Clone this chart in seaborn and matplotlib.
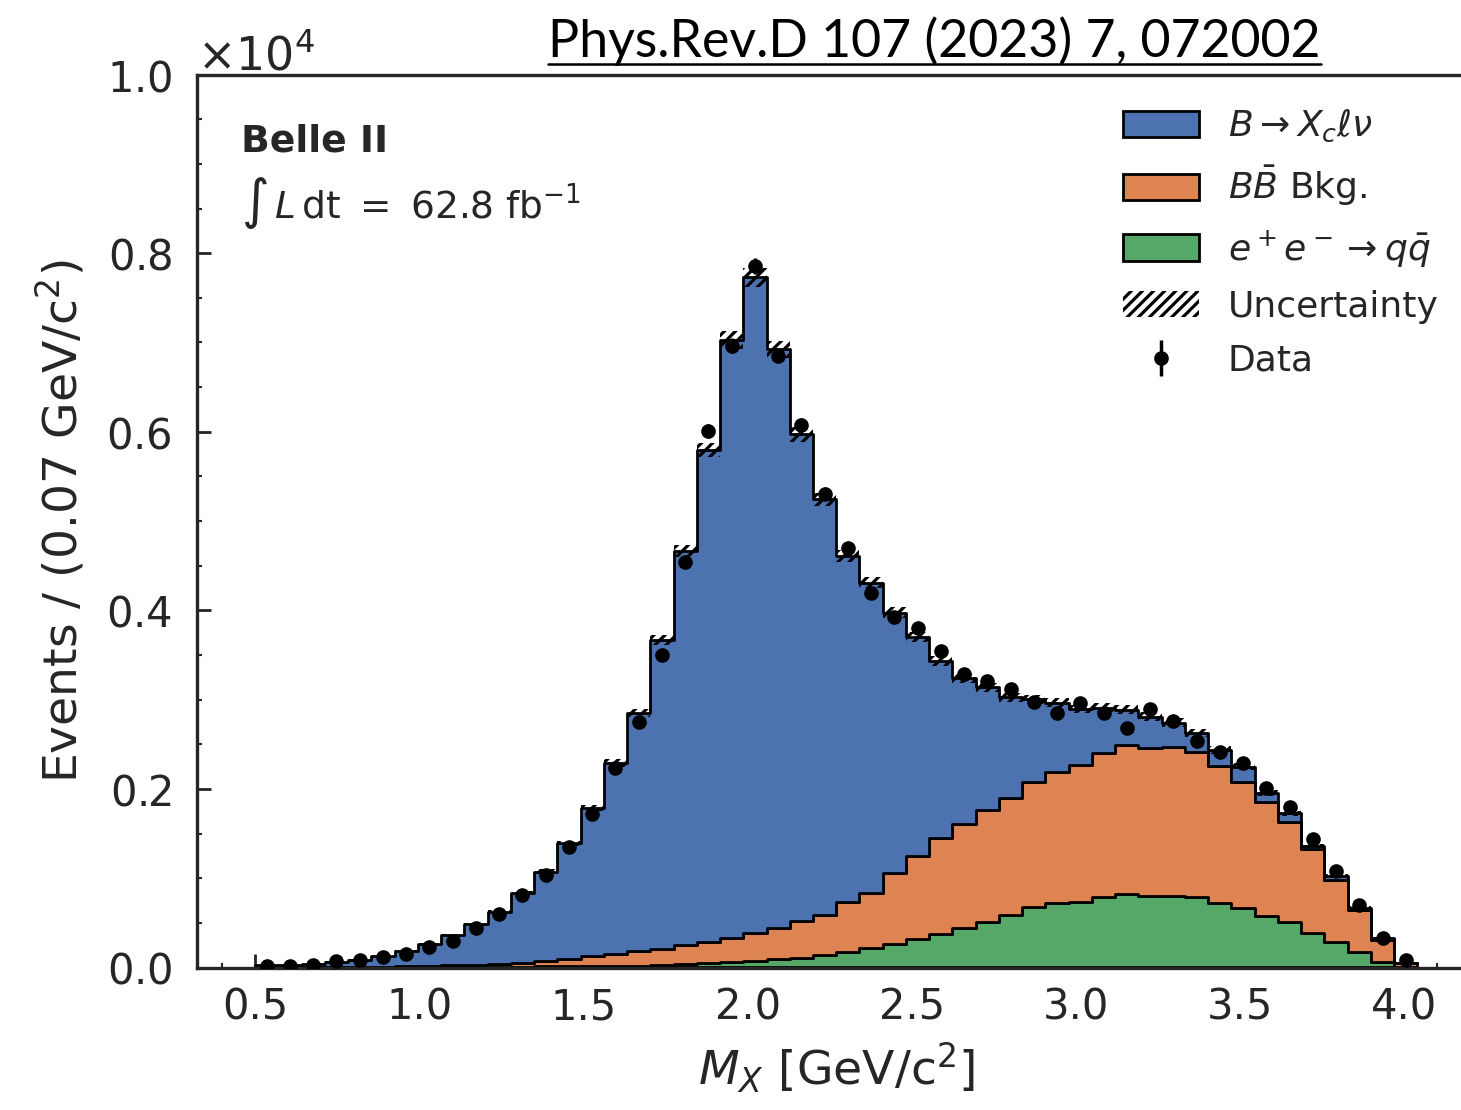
import numpy as np
import pandas as pd
import seaborn as sns
import matplotlib
matplotlib.use('Agg')
import matplotlib.pyplot as plt
from matplotlib.patches import Patch
from matplotlib.lines import Line2D
from matplotlib.ticker import MultipleLocator, ScalarFormatter

# M_X histogram, 50 bins from 0.5 to 4.04 GeV/c^2
bin_edges = np.linspace(0.5, 4.04, 51)
bin_centers = 0.5 * (bin_edges[:-1] + bin_edges[1:])

# stacked MC components (events per bin)
xc_lnu = [28, 28, 39, 63, 80, 121, 173, 245, 340, 455,
          583, 779, 1000, 1294, 1661, 2135, 2670, 3455, 4416, 5507,
          6695, 7343, 6478, 5451, 4653, 3883, 3474, 2918, 2454, 1982,
          1628, 1373, 1129, 924, 772, 628, 505, 393, 348, 269,
          213, 180, 168, 101, 94, 33, 45, 26, 20, 0]
bb_bkg = [0, 0, 0, 2, 3, 6, 9, 14, 19, 26,
          34, 45, 63, 86, 109, 137, 158, 184, 212, 242,
          274, 314, 355, 410, 455, 555, 620, 793, 935, 1070,
          1170, 1260, 1307, 1400, 1474, 1531, 1612, 1672, 1657, 1669,
          1624, 1530, 1411, 1280, 1120, 937, 691, 467, 243, 47]
qq_bkg = [0, 0, 0, 0, 1, 2, 3, 4, 5, 6,
          8, 10, 12, 14, 16, 18, 22, 28, 36, 46,
          58, 72, 90, 110, 135, 175, 215, 262, 315, 380,
          440, 505, 588, 681, 719, 737, 793, 820, 804, 804,
          786, 726, 670, 577, 513, 390, 289, 177, 65, 0]

# MC uncertainty (half width of the hatched band)
mc_unc = [3, 3, 4, 5, 6, 7, 8, 10, 12, 14,
          16, 19, 23, 28, 33, 40, 48, 58, 70, 82,
          96, 105, 96, 85, 76, 68, 64, 60, 57, 54,
          52, 51, 50, 50, 50, 49, 50, 50, 48, 47,
          45, 42, 39, 35, 31, 26, 20, 14, 8, 3]

# observed data
data_counts = [17, 20, 28, 70, 84, 114, 151, 235, 302, 440,
               600, 812, 1035, 1350, 1720, 2235, 2750, 3500, 4540, 6011,
               6965, 7855, 6850, 6080, 5305, 4697, 4197, 3930, 3805, 3547,
               3290, 3209, 3115, 2977, 2848, 2959, 2845, 2684, 2893, 2760,
               2536, 2410, 2294, 2014, 1795, 1441, 1077, 705, 328, 80]

labels = [r'$B \rightarrow X_c \ell \nu$', r'$B\bar{B}$ Bkg.', r'$e^+e^- \rightarrow q\bar{q}$']
colors = sns.color_palette('deep')[:3]

sns.set_style('ticks')
plt.rcParams['font.family'] = ['DejaVu Sans']
plt.rcParams['mathtext.fontset'] = 'dejavusans'
plt.rcParams['hatch.linewidth'] = 2.3

n = len(bin_centers)
df = pd.DataFrame({
    'mx': np.tile(bin_centers, 3),
    'w': np.concatenate([xc_lnu, bb_bkg, qq_bkg]).astype(float),
    'comp': np.repeat(labels, n),
})

W, H = 1461, 1110
fig = plt.figure(figsize=(W / 100, H / 100), dpi=100)
ax_left, ax_bottom, ax_top = 197, 967.5, 74.6
ax_width = 1278.5
ax = fig.add_axes([ax_left / W, 1 - ax_bottom / H, ax_width / W, (ax_bottom - ax_top) / H])

sns.histplot(data=df, x='mx', weights='w', hue='comp', hue_order=labels,
             bins=bin_edges.tolist(), multiple='stack', element='step', fill=True,
             palette=colors, alpha=1, edgecolor='black', linewidth=2,
             legend=False, ax=ax)

total = np.array(xc_lnu) + np.array(bb_bkg) + np.array(qq_bkg)
unc = np.array(mc_unc)
widths = np.diff(bin_edges)
ax.bar(bin_centers, 2 * unc, bottom=total - unc, width=widths, fill=False,
       hatch='///', edgecolor='black', linewidth=0, zorder=3)

data = np.array(data_counts, dtype=float)
eb = ax.errorbar(bin_centers, data, yerr=np.sqrt(data), fmt='o', color='black',
                 ms=9.5, elinewidth=2.5, capsize=0, zorder=4)

ax.set_xlim(0.323, 4.217)
ax.set_ylim(0, 10000)
ax.xaxis.set_major_locator(MultipleLocator(0.5))
ax.xaxis.set_minor_locator(MultipleLocator(0.1))
ax.yaxis.set_major_locator(MultipleLocator(2000))
ax.yaxis.set_minor_locator(MultipleLocator(500))
fmt = ScalarFormatter(useMathText=True)
fmt.set_powerlimits((0, 0))
ax.yaxis.set_major_formatter(fmt)
ax.yaxis.get_offset_text().set_fontsize(33)

ax.tick_params(which='major', direction='in', length=10, width=2, labelsize=30, pad=14,
               top=False, right=False)
ax.tick_params(axis='y', which='major', pad=18)
ax.tick_params(which='minor', direction='in', length=3.6, width=1.5, top=False, right=False)
for sp in ax.spines.values():
    sp.set_linewidth(2.4)

ax.set_xlabel(r'$M_X$ [GeV/c$^2$]', fontsize=34, labelpad=8)
ax.set_ylabel(r'Events / (0.07 GeV/c$^2$)', fontsize=34, labelpad=14)

fig.text(241 / W, 1 - 152 / H, 'Belle II', fontsize=27.2, fontweight='bold', ha='left', va='baseline')
fig.text(241 / W, 1 - 218 / H, r'$\int\, L\, \mathrm{dt}\ =\ 62.8\ \mathrm{fb}^{-1}$',
         fontsize=27, ha='left', va='baseline')

handles = [Patch(facecolor=colors[0], edgecolor='black', linewidth=2),
           Patch(facecolor=colors[1], edgecolor='black', linewidth=2),
           Patch(facecolor=colors[2], edgecolor='black', linewidth=2),
           Patch(facecolor='none', edgecolor='black', hatch='///', linewidth=0),
           eb]
leg_labels = labels + ['Uncertainty', 'Data']
fig.legend(handles, leg_labels, loc='upper left', bbox_to_anchor=(1105 / W, 1 - 90 / H),
           frameon=False, fontsize=26, handlelength=2.1, handleheight=0.75,
           handletextpad=0.8, labelspacing=0.55, borderpad=0)

title = fig.text(548 / W, 1 - 57 / H, 'Phys.Rev.D 107 (2023) 7, 072002', fontsize=37.4,
                 family='Lato', color='black', ha='left', va='baseline')
renderer = fig.canvas.get_renderer()
bb = title.get_window_extent(renderer)
fig.add_artist(Line2D([bb.x0 / W, bb.x1 / W], [1 - 64 / H, 1 - 64 / H],
                      color='black', linewidth=1.8, transform=fig.transFigure))

fig.savefig('out.png', dpi=100)
